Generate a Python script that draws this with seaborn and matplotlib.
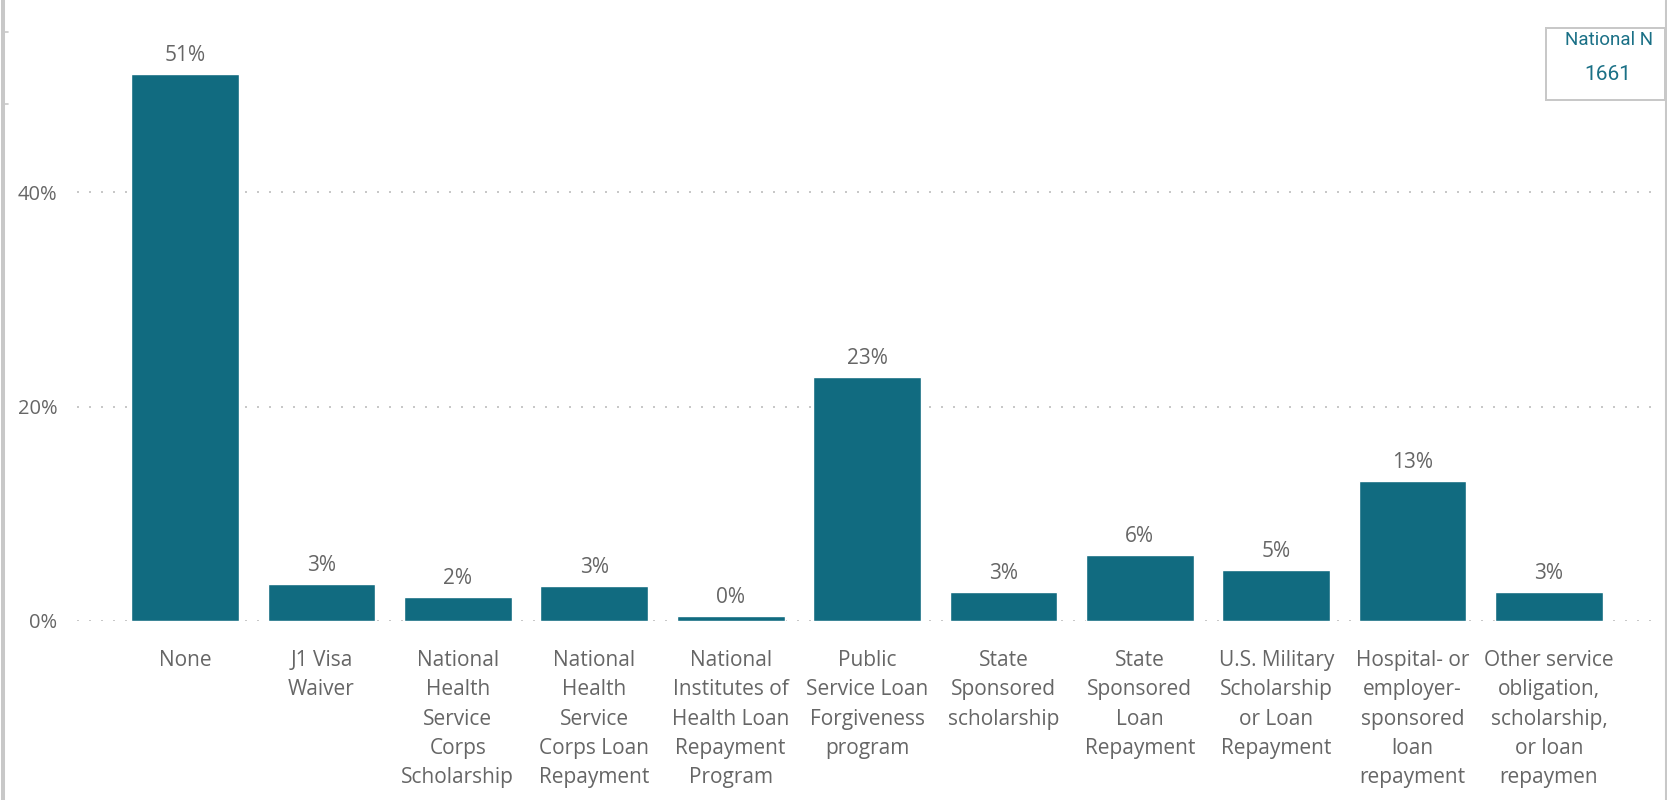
import matplotlib
matplotlib.use("Agg")
import matplotlib.pyplot as plt
from matplotlib.lines import Line2D
from matplotlib.patches import Rectangle
import seaborn as sns
import pandas as pd

# Programs used by respondents (share of national sample)
categories = [
    "None",
    "J1 Visa\nWaiver",
    "National\nHealth\nService\nCorps\nScholarship",
    "National\nHealth\nService\nCorps Loan\nRepayment",
    "National\nInstitutes of\nHealth Loan\nRepayment\nProgram",
    "Public\nService Loan\nForgiveness\nprogram",
    "State\nSponsored\nscholarship",
    "State\nSponsored\nLoan\nRepayment",
    "U.S. Military\nScholarship\nor Loan\nRepayment",
    "Hospital- or\nemployer-\nsponsored\nloan\nrepayment",
    "Other service\nobligation,\nscholarship,\nor loan\nrepaymen",
]
shares = [51.0, 3.45, 2.24, 3.26, 0.45, 22.75, 2.7, 6.15, 4.76, 13.05, 2.7]
y_ticks = [0, 20, 40]
national_n = 1661

BAR = "#116B80"
TEXT = "#666666"
GRID = "#C8C8C8"
CARD_TEXT = "#1A7086"

sns.set_theme(style="white")
plt.rcParams["font.family"] = ["Open Sans", "DejaVu Sans"]

df = pd.DataFrame({"program": categories, "share": shares})

fig = plt.figure(figsize=(16.67, 8.0), dpi=100)
ax = fig.add_axes([0.0462, 0.22375, 0.9448, 0.74125])

for v in y_ticks:
    ax.axhline(v, color=GRID, linewidth=1.44, linestyle=(0, (1.0, 5.0)), zorder=0)

sns.barplot(data=df, x="program", y="share", color=BAR, saturation=1,
            width=0.79, ax=ax, zorder=2)

ax.set_xlim(-0.792, 10.755)
ax.set_ylim(0, 55.3)
ax.set_yticks(y_ticks)
ax.set_yticklabels([f"{v}%" for v in y_ticks])
ax.set_xlabel("")
ax.set_ylabel("")
for s in ax.spines.values():
    s.set_visible(False)
ax.tick_params(axis="y", length=0, pad=14, labelsize=14.5, labelcolor=TEXT)
ax.tick_params(axis="x", length=0, pad=21, labelsize=15, labelcolor=TEXT)
for lbl in ax.get_xticklabels():
    lbl.set_linespacing(1.52)

for i, v in enumerate(shares):
    ax.annotate(f"{round(v):.0f}%", xy=(i, v), xytext=(0, 6),
                textcoords="offset points", ha="center", va="bottom",
                fontsize=15, color=TEXT)

# Panel borders
fig.add_artist(Line2D([3 / 1667, 3 / 1667], [0, 1], color=GRID, linewidth=2.9))
fig.add_artist(Line2D([1666 / 1667, 1666 / 1667], [0, 1], color=GRID, linewidth=2.2))
for yy in (32, 104):
    fig.add_artist(Line2D([5 / 1667, 8 / 1667], [1 - yy / 800, 1 - yy / 800],
                          color=GRID, linewidth=1.2))

# National N card
fig.add_artist(Rectangle((1546 / 1667, 1 - 100 / 800), 119 / 1667, 72 / 800,
                         facecolor="white", edgecolor=GRID, linewidth=1.44,
                         transform=fig.transFigure))
fig.text(1609 / 1667, 1 - 40 / 800, "National N", ha="center", va="center",
         fontsize=13.5, color=CARD_TEXT, family=["Roboto", "DejaVu Sans"])
fig.text(1608 / 1667, 1 - 75 / 800, f"{national_n}", ha="center", va="center",
         fontsize=15, color=CARD_TEXT, family=["Roboto", "DejaVu Sans"])

fig.savefig("out.png", dpi=100, facecolor="white")
